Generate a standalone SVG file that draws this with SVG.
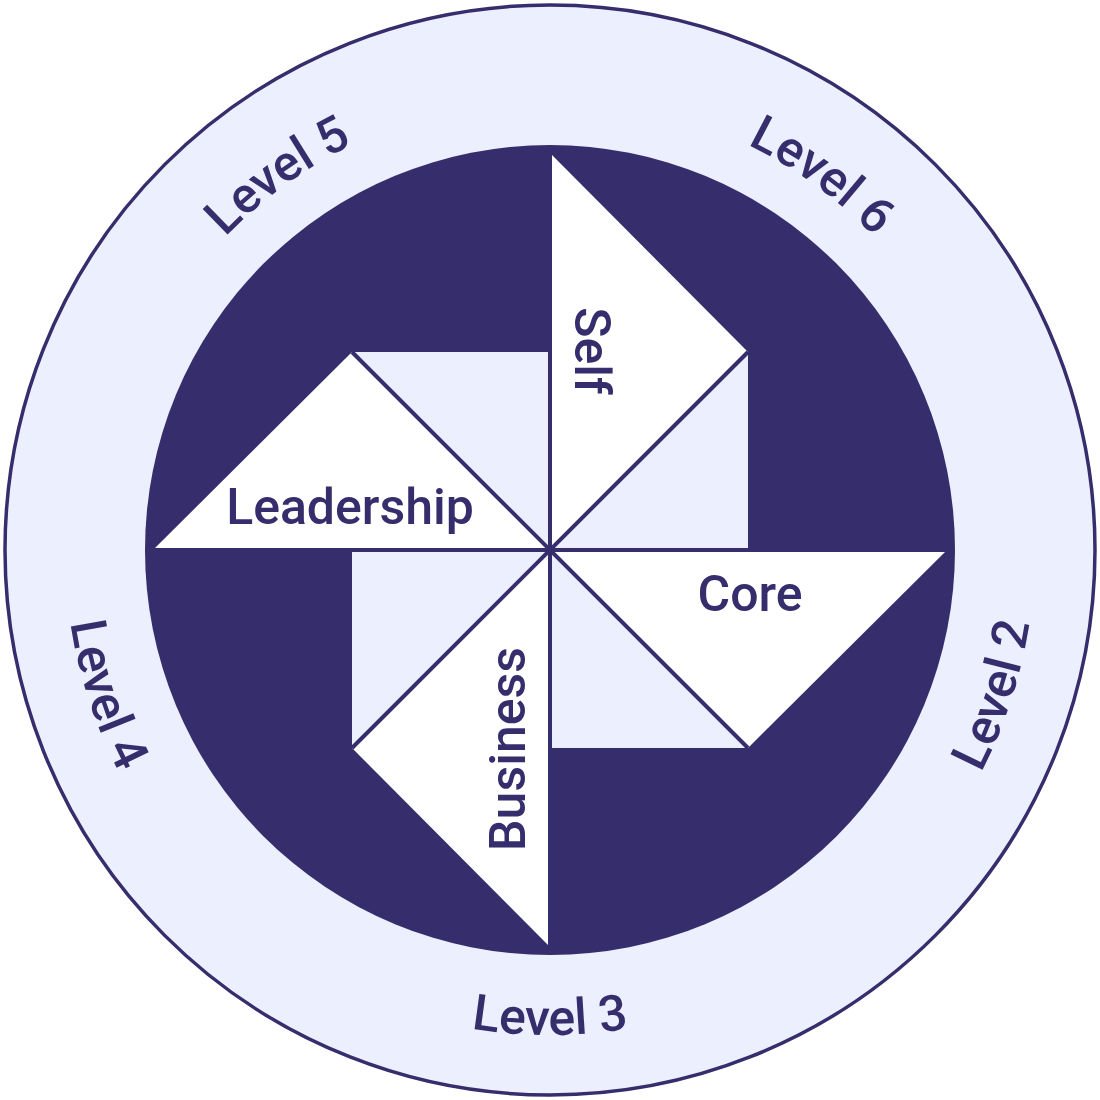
<svg xmlns="http://www.w3.org/2000/svg" width="1100" height="1100" viewBox="0 0 1100 1100">
  <style>
    .lbl { font-family: Roboto, "Liberation Sans", sans-serif; font-weight: 500; font-size: 50px; fill: #362D6C; }
    .sq { fill: #ECEFFD; }
    .tri { fill: #FFFFFF; }
    .ln { stroke: #362D6C; stroke-width: 4; fill: none; }
  </style>
  <defs>
    <path id="cw" d="M 550,1001 A 451 451 0 1 1 550,99 A 451 451 0 1 1 550,1001"/>
    <path id="ccw" d="M 550,65 A 485 485 0 1 0 550,1035 A 485 485 0 1 0 550,65"/>
  </defs>
  <rect width="1100" height="1100" fill="#FFFFFF"/>
  <g id="ring">
    <circle cx="550" cy="550" r="545" fill="#ECEFFD" stroke="#362D6C" stroke-width="3.5"/>
    <circle cx="550" cy="550" r="405" fill="#362D6C"/>
  </g>
  <g id="levels">
    <text class="lbl" text-anchor="middle"><textPath href="#cw" startOffset="40%">Level 5</textPath></text>
    <text class="lbl" text-anchor="middle"><textPath href="#cw" startOffset="60%">Level 6</textPath></text>
    <text class="lbl" text-anchor="middle"><textPath href="#ccw" startOffset="30%">Level 4</textPath></text>
    <text class="lbl" text-anchor="middle"><textPath href="#ccw" startOffset="50%">Level 3</textPath></text>
    <text class="lbl" text-anchor="middle"><textPath href="#ccw" startOffset="70%">Level 2</textPath></text>
  </g>
  <g id="leadership">
    <rect class="sq" x="352" y="352" width="196" height="196"/>
    <polygon class="tri" points="155,548 352,352 548,548"/>
    <text class="lbl" x="350" y="524" text-anchor="middle">Leadership</text>
  </g>
  <g id="self">
    <rect class="sq" x="552" y="352" width="196" height="196"/>
    <polygon class="tri" points="552,155 748,352 552,548"/>
    <text class="lbl" text-anchor="middle" transform="translate(575,351) rotate(90)">Self</text>
  </g>
  <g id="core">
    <rect class="sq" x="552" y="552" width="196" height="196"/>
    <polygon class="tri" points="945,552 748,748 552,552"/>
    <text class="lbl" x="750" y="611" text-anchor="middle">Core</text>
  </g>
  <g id="business">
    <rect class="sq" x="352" y="552" width="196" height="196"/>
    <polygon class="tri" points="548,945 352,748 548,552"/>
    <text class="lbl" text-anchor="middle" transform="translate(525,749) rotate(-90)">Business</text>
  </g>
  <g id="connectors">
    <line class="ln" x1="155" y1="550" x2="945" y2="550"/>
    <line class="ln" x1="550" y1="155" x2="550" y2="945"/>
    <line class="ln" x1="352" y1="352" x2="748" y2="748"/>
    <line class="ln" x1="748" y1="352" x2="352" y2="748"/>
  </g>
</svg>
